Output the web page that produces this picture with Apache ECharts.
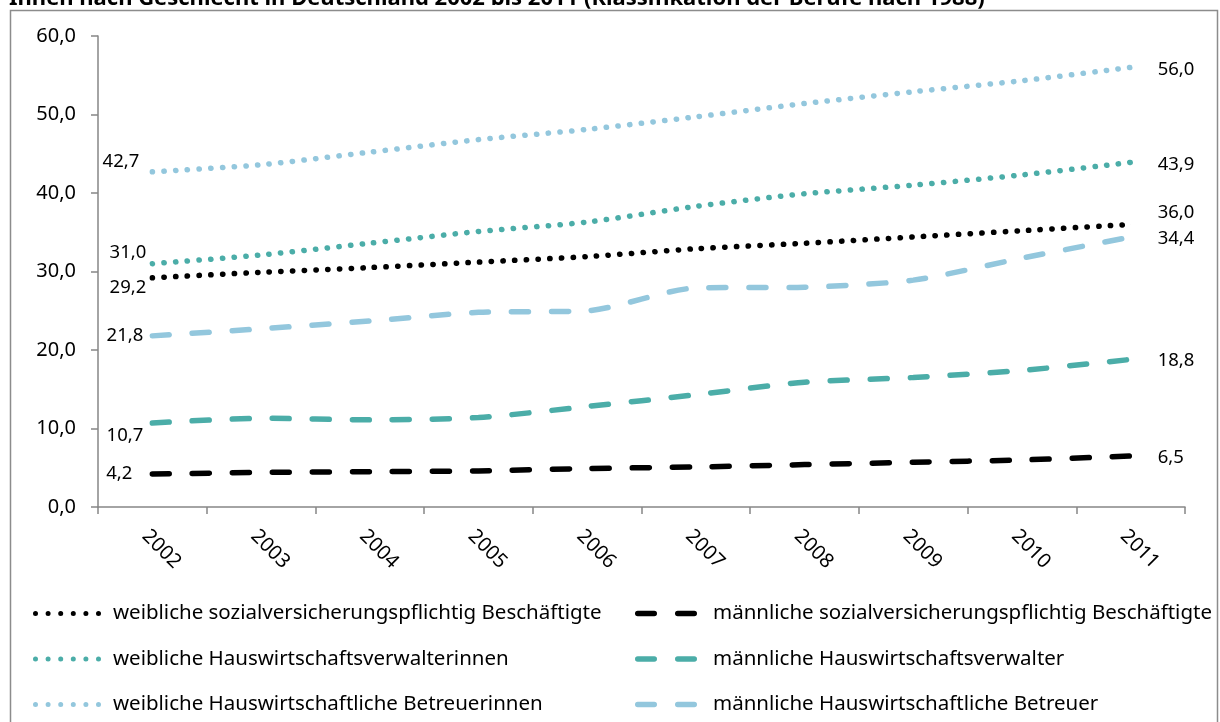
<!DOCTYPE html>
<html>
<head>
<meta charset="utf-8">
<script src="https://cdn.jsdelivr.net/npm/echarts@6/dist/echarts.min.js"></script>
<style>
  html, body { margin: 0; padding: 0; background: #ffffff; }
  #chart { width: 1220px; height: 722px; }
</style>
</head>
<body>
<div id="chart"></div>
<script>
// Jahre der Kategorienachse
const years = ['2002', '2003', '2004', '2005', '2006', '2007', '2008', '2009', '2010', '2011'];

// Anteile in Prozent je Gruppe
const wSozial      = [29.2, 29.9, 30.5, 31.2, 31.9, 32.9, 33.6, 34.4, 35.2, 36.0];
const mSozial      = [4.2, 4.4, 4.5, 4.6, 4.9, 5.1, 5.4, 5.7, 6.0, 6.5];
const wVerwalter   = [31.0, 32.1, 33.6, 35.1, 36.3, 38.3, 39.9, 41.0, 42.3, 43.9];
const mVerwalter   = [10.7, 11.3, 11.1, 11.4, 12.8, 14.3, 15.9, 16.5, 17.4, 18.8];
const wBetreuer    = [42.7, 43.6, 45.2, 46.8, 48.1, 49.7, 51.4, 52.9, 54.3, 56.0];
const mBetreuer    = [21.8, 22.7, 23.7, 24.8, 25.0, 27.9, 28.0, 28.9, 31.7, 34.4];

// Reihennamen
const names = [
  'weibliche sozialversicherungspflichtig Beschäftigte',
  'männliche sozialversicherungspflichtig Beschäftigte',
  'weibliche Hauswirtschaftsverwalterinnen',
  'männliche Hauswirtschaftsverwalter',
  'weibliche Hauswirtschaftliche Betreuerinnen',
  'männliche Hauswirtschaftliche Betreuer'
];

const titleText = 'Innen nach Geschlecht in Deutschland 2002 bis 2011 (Klassifikation der Berufe nach 1988)';

const FONT = '"Noto Sans", sans-serif';
const BLACK = '#000000';
const TEAL = '#4bada8';
const LIGHT = '#93c7dd';

const fmt = v => v.toFixed(1).replace('.', ',');

// Legendensymbole: sechs Punkte bzw. zwei abgerundete Striche
function dotsIcon() {
  let d = '';
  for (let i = 0; i < 6; i++) {
    const cx = 2.5 + i * 12.6;
    d += `M${(cx - 2.5).toFixed(2)} 2.5 a2.5 2.5 0 1 0 5 0 a2.5 2.5 0 1 0 -5 0 Z `;
  }
  return 'path://' + d.trim();
}
function dashIcon() {
  let d = '';
  [0, 40].forEach(x => {
    d += `M${x + 2.75} 0 h16.5 a2.75 2.75 0 0 1 0 5.5 h-16.5 a2.75 2.75 0 0 1 0 -5.5 Z `;
  });
  return 'path://' + d.trim();
}

// Beschriftung am ersten und letzten Punkt einer Reihe
function withEndLabels(values, leftLabel, rightLabel) {
  const last = values.length - 1;
  return values.map((v, i) => {
    if (i === 0) {
      return { value: v, label: Object.assign({ show: true, position: 'left' }, leftLabel) };
    }
    if (i === last) {
      return { value: v, label: Object.assign({ show: true, position: 'right', distance: 27 }, rightLabel) };
    }
    return v;
  });
}

const dotted = color => ({ color, width: 5.5, type: [0.3, 11.4], cap: 'round' });
const dashed = color => ({ color, width: 5.5, type: [17, 23], cap: 'round' });

function lineSeries(name, values, lineStyle, leftLabel, rightLabel, z) {
  return {
    name,
    type: 'line',
    data: withEndLabels(values, leftLabel, rightLabel),
    symbol: 'circle',
    symbolSize: 0.1,
    showSymbol: true,
    showAllSymbol: true,
    smooth: 0.25,
    z,
    lineStyle,
    itemStyle: { color: lineStyle.color },
    label: {
      show: false,
      color: '#000',
      fontFamily: FONT,
      fontSize: 18.5,
      formatter: p => fmt(p.value)
    },
    emphasis: { disabled: true }
  };
}

const chart = echarts.init(document.getElementById('chart'), null, { renderer: 'canvas' });

const legendCommon = {
  orient: 'vertical',
  padding: 0,
  itemGap: 24.5,
  selectedMode: false
};

chart.setOption({
  backgroundColor: '#ffffff',
  animation: false,
  graphic: [
    {
      type: 'rect',
      shape: { x: 10.5, y: 10.5, width: 1207, height: 730 },
      style: { fill: 'none', stroke: '#8c8c8c', lineWidth: 1.5 },
      silent: true
    },
    {
      type: 'text',
      x: 9,
      y: 10,
      style: {
        text: titleText,
        fontFamily: FONT,
        fontWeight: 'bold',
        fontSize: 22,
        fill: '#000',
        verticalAlign: 'bottom'
      },
      silent: true
    }
  ],
  grid: { left: 98, right: 35, top: 36, bottom: 215, containLabel: false },
  legend: [
    Object.assign({}, legendCommon, {
      left: 33, top: 603, itemWidth: 68, itemHeight: 5,
      textStyle: { fontFamily: FONT, fontSize: 20.5, color: '#000', padding: [0, 0, 0, 7] },
      data: [names[0], names[2], names[4]].map(n => ({ name: n, icon: dotsIcon() }))
    }),
    Object.assign({}, legendCommon, {
      left: 635, top: 603, itemWidth: 62, itemHeight: 5.5,
      textStyle: { fontFamily: FONT, fontSize: 20.5, color: '#000', padding: [0, 0, 0, 11] },
      data: [names[1], names[3], names[5]].map(n => ({ name: n, icon: dashIcon() }))
    })
  ],
  xAxis: {
    type: 'category',
    data: years,
    boundaryGap: true,
    axisLine: { show: true, lineStyle: { color: '#868686', width: 1.5 } },
    axisTick: { show: true, length: 7, lineStyle: { color: '#868686', width: 1.5 } },
    axisLabel: {
      interval: 0,
      rotate: -45,
      margin: 19,
      verticalAlign: 'top',
      fontFamily: FONT,
      fontSize: 20,
      color: '#000'
    },
    splitLine: { show: false }
  },
  yAxis: {
    type: 'value',
    min: 0,
    max: 60,
    interval: 10,
    axisLine: { show: true, lineStyle: { color: '#868686', width: 1.5 } },
    axisTick: { show: true, length: 7, lineStyle: { color: '#868686', width: 1.5 } },
    axisLabel: {
      margin: 22,
      fontFamily: FONT,
      fontSize: 20,
      color: '#000',
      formatter: v => fmt(v)
    },
    splitLine: { show: false }
  },
  series: [
    lineSeries(names[0], wSozial, dotted(BLACK), { distance: 6, offset: [0, 10] }, { offset: [0, -12] }, 5),
    lineSeries(names[1], mSozial, dashed(BLACK), { distance: 20, offset: [0, 0] }, { offset: [0, 2] }, 4),
    lineSeries(names[2], wVerwalter, dotted(TEAL), { distance: 6, offset: [0, -11] }, { offset: [0, 2] }, 5),
    lineSeries(names[3], mVerwalter, dashed(TEAL), { distance: 9, offset: [0, 13] }, { offset: [0, 1] }, 4),
    lineSeries(names[4], wBetreuer, dotted(LIGHT), { distance: 13, offset: [0, -10] }, { offset: [0, 2] }, 5),
    lineSeries(names[5], mBetreuer, dashed(LIGHT), { distance: 9, offset: [0, 0] }, { offset: [0, 2] }, 4)
  ]
});
</script>
</body>
</html>
